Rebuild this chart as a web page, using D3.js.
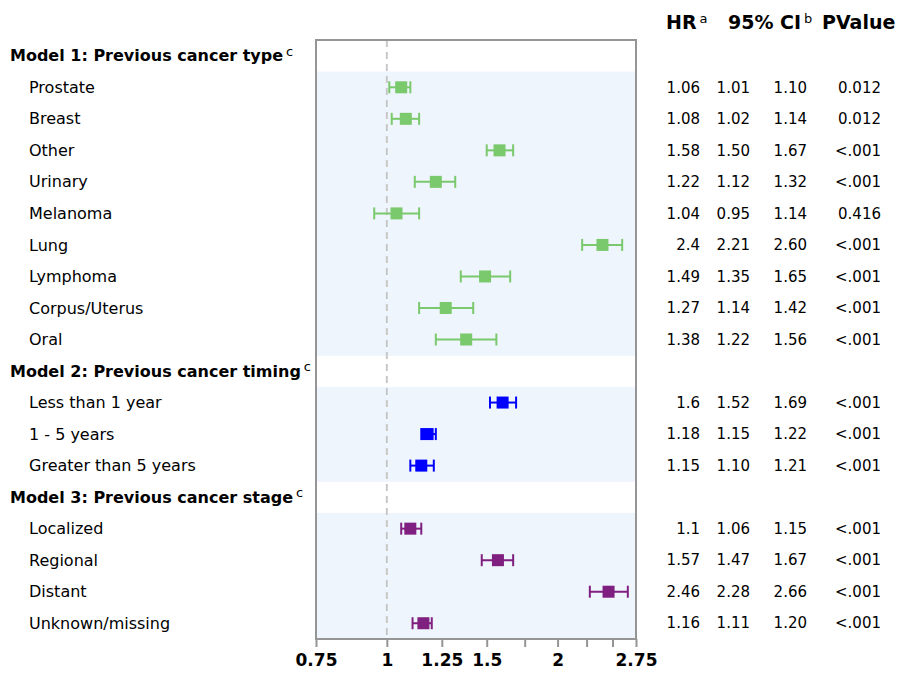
<!DOCTYPE html>
<html>
<head>
<meta charset="utf-8">
<script src="https://cdn.jsdelivr.net/npm/d3@7"></script>
<style>
  body { margin: 0; background: #fff; }
  svg { display: block; font-family: "DejaVu Sans", Verdana, sans-serif; }
</style>
</head>
<body>
<svg id="chart" width="897" height="678"></svg>
<script>
// Row labels, top to bottom; headers carry no estimate
const rowLabels = [
  "Model 1: Previous cancer type", "Prostate", "Breast", "Other", "Urinary", "Melanoma",
  "Lung", "Lymphoma", "Corpus/Uterus", "Oral",
  "Model 2: Previous cancer timing", "Less than 1 year", "1 - 5 years", "Greater than 5 years",
  "Model 3: Previous cancer stage", "Localized", "Regional", "Distant", "Unknown/missing"
];
const rowIsHeader = [1,0,0,0,0,0,0,0,0,0,1,0,0,0,1,0,0,0,0];
const rowGroup    = [0,0,0,0,0,0,0,0,0,0,1,1,1,1,2,2,2,2,2];
const groupColors = ["#7ac96c", "#0000ff", "#7f1f7f"];

// Estimates (null on header rows)
const hrValues  = [null,1.06,1.08,1.58,1.22,1.04,2.4,1.49,1.27,1.38, null,1.6,1.18,1.15, null,1.1,1.57,2.46,1.16];
const ciLower   = [null,1.01,1.02,1.50,1.12,0.95,2.21,1.35,1.14,1.22, null,1.52,1.15,1.10, null,1.06,1.47,2.28,1.11];
const ciUpper   = [null,1.10,1.14,1.67,1.32,1.14,2.60,1.65,1.42,1.56, null,1.69,1.22,1.21, null,1.15,1.67,2.66,1.20];
const hrText    = [null,"1.06","1.08","1.58","1.22","1.04","2.4","1.49","1.27","1.38", null,"1.6","1.18","1.15", null,"1.1","1.57","2.46","1.16"];
const loText    = [null,"1.01","1.02","1.50","1.12","0.95","2.21","1.35","1.14","1.22", null,"1.52","1.15","1.10", null,"1.06","1.47","2.28","1.11"];
const hiText    = [null,"1.10","1.14","1.67","1.32","1.14","2.60","1.65","1.42","1.56", null,"1.69","1.22","1.21", null,"1.15","1.67","2.66","1.20"];
const pText     = [null,"0.012","0.012","<.001","<.001","0.416","<.001","<.001","<.001","<.001", null,"<.001","<.001","<.001", null,"<.001","<.001","<.001","<.001"];

// Axis ticks
const tickValues = [0.75, 1, 1.25, 1.5, 1.75, 2, 2.25, 2.5, 2.75];
const tickLabels = ["0.75", "1", "1.25", "1.5", "", "2", "", "", "2.75"];

const svg = d3.select("#chart");
const plot = { left: 316, right: 636, top: 40, bottom: 639 };

const x = d3.scaleLog().domain([0.75, 2.75]).range([plot.left, plot.right]);
const y = d3.scaleBand().domain(d3.range(rowLabels.length)).range([plot.top, plot.bottom]).padding(0);
const cy = i => y(i) + y.bandwidth() / 2;

const rows = d3.range(rowLabels.length);
const items = rows.filter(i => !rowIsHeader[i]);

// Shaded bands behind the estimate rows
svg.append("g").selectAll("rect").data(items).join("rect")
  .attr("x", plot.left).attr("width", plot.right - plot.left)
  .attr("y", i => y(i)).attr("height", y.bandwidth() + 0.5)
  .attr("fill", "#eff5fd");

// Reference line at HR = 1
svg.append("line")
  .attr("x1", x(1)).attr("x2", x(1))
  .attr("y1", plot.top).attr("y2", plot.bottom)
  .attr("stroke", "#c8c8c8").attr("stroke-width", 2)
  .attr("stroke-dasharray", "7,5");

// Confidence intervals with caps
const ci = svg.append("g").selectAll("g").data(items).join("g")
  .attr("stroke", i => groupColors[rowGroup[i]])
  .attr("stroke-width", 2);
ci.append("line")
  .attr("x1", i => x(ciLower[i])).attr("x2", i => x(ciUpper[i]))
  .attr("y1", cy).attr("y2", cy);
ci.append("line")
  .attr("x1", i => x(ciLower[i])).attr("x2", i => x(ciLower[i]))
  .attr("y1", i => cy(i) - 6).attr("y2", i => cy(i) + 6);
ci.append("line")
  .attr("x1", i => x(ciUpper[i])).attr("x2", i => x(ciUpper[i]))
  .attr("y1", i => cy(i) - 6).attr("y2", i => cy(i) + 6);

// Point estimates
svg.append("g").selectAll("rect").data(items).join("rect")
  .attr("x", i => x(hrValues[i]) - 6).attr("y", i => cy(i) - 6)
  .attr("width", 12).attr("height", 12)
  .attr("fill", i => groupColors[rowGroup[i]]);

// Frame
svg.append("rect")
  .attr("x", plot.left).attr("y", plot.top)
  .attr("width", plot.right - plot.left).attr("height", plot.bottom - plot.top)
  .attr("fill", "none").attr("stroke", "#959595").attr("stroke-width", 2);

// Bottom axis
const axis = svg.append("g")
  .attr("transform", `translate(0,${plot.bottom})`)
  .call(d3.axisBottom(x).tickValues(tickValues)
    .tickFormat((d, k) => tickLabels[k]).tickSize(8).tickPadding(7));
axis.select(".domain").remove();
axis.selectAll(".tick line").attr("stroke", "#959595").attr("stroke-width", 2);
axis.selectAll(".tick text")
  .attr("fill", "#000").style("font-size", "17px").style("font-weight", "bold")
  .style("font-family", "'DejaVu Sans', sans-serif");

// Row labels
const lab = svg.append("g").selectAll("text").data(rows).join("text")
  .attr("x", i => rowIsHeader[i] ? 10 : 29)
  .attr("y", cy).attr("dy", "0.35em")
  .style("font-size", "16px")
  .style("font-weight", i => rowIsHeader[i] ? "bold" : "normal")
  .attr("fill", "#000");
lab.append("tspan").text(i => rowLabels[i]);
lab.filter(i => rowIsHeader[i]).append("tspan")
  .attr("dx", 3).attr("dy", "-0.45em")
  .style("font-size", "13px").style("font-weight", "normal")
  .text("c");

// Value columns (right aligned)
const cols = [
  { text: hrText, x: 700 },
  { text: loText, x: 750 },
  { text: hiText, x: 807 },
  { text: pText,  x: 881 }
];
cols.forEach(c => {
  svg.append("g").selectAll("text").data(items).join("text")
    .attr("x", c.x).attr("y", cy).attr("dy", "0.35em")
    .attr("text-anchor", "end")
    .style("font-size", "15px").attr("fill", "#000")
    .text(i => c.text[i]);
});

// Column headers
const headY = 22;
const heads = [
  { main: "HR", sup: "a", x: 666 },
  { main: "95% CI", sup: "b", x: 728 },
  { main: "PValue", sup: "", x: 822 }
];
heads.forEach(h => {
  const t = svg.append("text").attr("x", h.x).attr("y", headY).attr("dy", "0.35em")
    .style("font-size", "19px").style("font-weight", "bold").attr("fill", "#000");
  t.append("tspan").text(h.main);
  if (h.sup) {
    t.append("tspan").attr("dx", 3).attr("dy", "-0.45em")
      .style("font-size", "13px").style("font-weight", "normal").text(h.sup);
  }
});
</script>
</body>
</html>
